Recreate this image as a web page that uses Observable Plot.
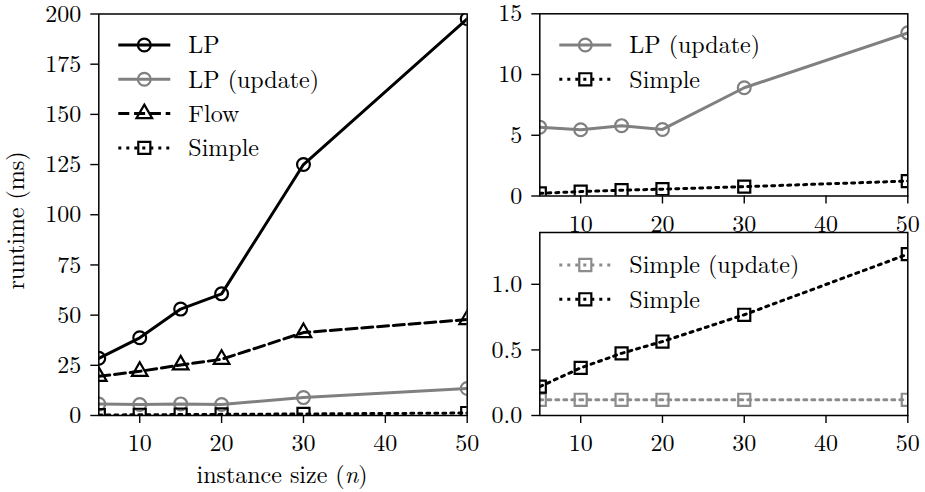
<!DOCTYPE html>
<html><head><meta charset="utf-8">
<script src="https://cdn.jsdelivr.net/npm/d3@7"></script>
<script src="https://cdn.jsdelivr.net/npm/@observablehq/plot@0.6"></script>
<style>
body{margin:0;background:#fff;}
#wrap{position:relative;width:925px;height:492px;font-family:"Latin Modern Roman","Liberation Serif",serif;}
#wrap > svg{position:absolute;overflow:visible;}
#wrap svg text{font-family:"Latin Modern Roman","Liberation Serif",serif !important;}
</style></head><body><div id="wrap"></div>
<script>
// ---- data ----
const sizes = [5, 10, 15, 20, 30, 50];
const lp = [28.5, 38.7, 53, 60.6, 125, 197.6];
const lpUpdate = [5.67, 5.46, 5.79, 5.48, 8.91, 13.43];
const flow = [19.5, 22, 25.2, 28, 41.3, 47.8];
const simple = [0.22, 0.363, 0.474, 0.564, 0.768, 1.23];
const simpleUpdate = [0.12, 0.12, 0.12, 0.12, 0.12, 0.12];
const xTicks = [10, 20, 30, 40, 50];
const leftYTicks = [0, 25, 50, 75, 100, 125, 150, 175, 200];
const topYTicks = [0, 5, 10, 15];
const bottomYTicks = [0, 0.5, 1.0];

// ---- styles ----
const FONT = '"Latin Modern Roman","Liberation Serif",serif';
const FS = 24;
const styles = {
  "LP": {stroke: "#000", dash: null, symbol: "circle", r: 6.4},
  "LP (update)": {stroke: "#808080", dash: null, symbol: "circle", r: 6.4},
  "Flow": {stroke: "#000", dash: "11,4.8", symbol: "triangle", r: 5.8},
  "Simple": {stroke: "#000", dash: "3,5", symbol: "square", r: 6.8},
  "Simple (update)": {stroke: "#8c8c8c", dash: "3,5", symbol: "square", r: 6.8}
};
const series = {
  "LP": lp, "LP (update)": lpUpdate, "Flow": flow, "Simple": simple, "Simple (update)": simpleUpdate
};
const rows = name => sizes.map((n, i) => ({n, v: series[name][i]}));

function seriesMarks(name) {
  const s = styles[name];
  return [
    Plot.line(rows(name), {x: "n", y: "v", stroke: s.stroke, strokeWidth: 3, strokeDasharray: s.dash, clip: true}),
    Plot.dot(rows(name), {x: "n", y: "v", stroke: s.stroke, fill: "none", strokeWidth: 2.2, r: s.r, symbol: s.symbol, clip: true})
  ];
}

function panel({left, top, width, height, margin, yDomain, yTicks, yFormat, names, legend, legendOff}) {
  const [mt, mr, mb, ml] = margin;
  const svg = Plot.plot({
    width, height,
    marginTop: mt, marginRight: mr, marginBottom: mb, marginLeft: ml,
    style: {fontSize: FS + "px", fontFamily: FONT, color: "#000", background: "transparent", overflow: "visible"},
    x: {type: "linear", domain: [5, 50], ticks: xTicks, tickSize: 8, tickPadding: 10.5, label: null, tickFormat: d3.format("d")},
    y: {type: "linear", domain: yDomain, ticks: yTicks, tickSize: 8, tickPadding: 9.5, label: null, tickFormat: yFormat},
    marks: [
      ...names.flatMap(seriesMarks),
      Plot.frame({stroke: "#000", strokeWidth: 1.5})
    ]
  });
  svg.style.left = left + "px";
  svg.style.top = top + "px";
  d3.select(svg).selectAll("g[aria-label='x-axis tick'] path, g[aria-label='y-axis tick'] path").attr("stroke-width", 1.4);
  // legend
  const g = d3.select(svg).append("g").attr("class", "legend").attr("text-anchor", "start");
  legend.forEach((name, i) => {
    const s = styles[name];
    const y = mt + legendOff + i * 34.3;
    const x0 = ml + 20, x1 = ml + 72, xm = (x0 + x1) / 2;
    g.append("line").attr("x1", x0).attr("x2", x1).attr("y1", y).attr("y2", y)
      .attr("stroke", s.stroke).attr("stroke-width", 3).attr("stroke-dasharray", s.dash);
    const sym = {circle: d3.symbolCircle, triangle: d3.symbolTriangle, square: d3.symbolSquare}[s.symbol];
    g.append("path").attr("d", d3.symbol(sym, s.r * s.r * Math.PI)()).attr("transform", `translate(${xm},${y})`)
      .attr("fill", "none").attr("stroke", s.stroke).attr("stroke-width", 2.2);
    g.append("text").attr("x", ml + 90).attr("y", y).attr("dy", "0.35em").attr("text-anchor", "start")
      .attr("font-size", FS).attr("fill", "#000").text(name);
  });
  document.getElementById("wrap").appendChild(svg);
  return svg;
}

const leftSvg = panel({
  left: 0, top: 0, width: 480, height: 492,
  margin: [13.5, 13.3, 77, 98.3],
  yDomain: [0, 200], yTicks: leftYTicks, yFormat: d3.format("d"),
  names: ["LP", "LP (update)", "Flow", "Simple"],
  legend: ["LP", "LP (update)", "Flow", "Simple"], legendOff: 31.5
});
panel({
  left: 480, top: 0, width: 445, height: 230,
  margin: [13.3, 17.7, 34.5, 59.3],
  yDomain: [0, 15], yTicks: topYTicks, yFormat: d3.format("d"),
  names: ["LP (update)", "Simple"],
  legend: ["LP (update)", "Simple"], legendOff: 31.7
});
panel({
  left: 480, top: 230, width: 445, height: 262,
  margin: [2, 17.7, 77, 59.3],
  yDomain: [0, 1.395], yTicks: bottomYTicks, yFormat: d3.format(".1f"),
  names: ["Simple (update)", "Simple"],
  legend: ["Simple (update)", "Simple"], legendOff: 33
});

// axis titles
const L = d3.select(leftSvg);
L.append("text").attr("transform", "translate(24,220.5) rotate(-90)").attr("text-anchor", "middle")
  .attr("font-size", FS).attr("fill", "#000").text("runtime (ms)");
const xl = L.append("text").attr("x", 282).attr("y", 482.5).attr("text-anchor", "middle")
  .attr("font-size", FS).attr("fill", "#000");
xl.append("tspan").text("instance size (");
xl.append("tspan").attr("font-style", "italic").text("n");
xl.append("tspan").text(")");
</script>
</body></html>
